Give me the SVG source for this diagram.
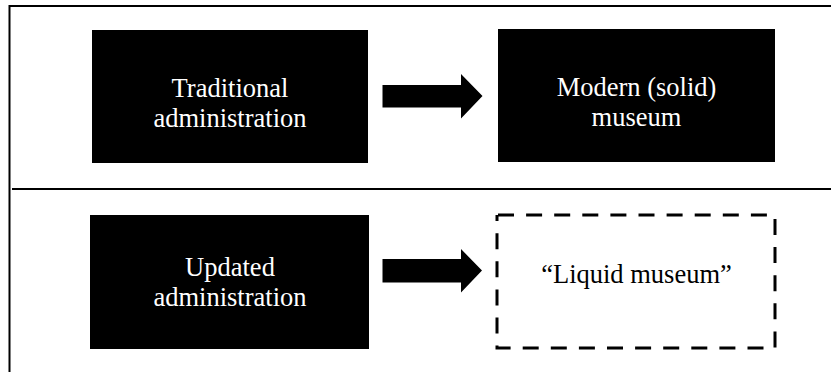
<svg xmlns="http://www.w3.org/2000/svg" width="831" height="372" viewBox="0 0 831 372">
  <style>
    .frame { stroke: #000; stroke-width: 2; fill: none; }
    .box { fill: #000; }
    .lbl { font-family: "Liberation Serif", "Times New Roman", serif; font-size: 26.5px; text-anchor: middle; fill: #fff; }
    .lbl-dark { fill: #000; }
    .dashed { fill: none; stroke: #000; stroke-width: 3; stroke-dasharray: 16 12.1; stroke-dashoffset: -1; }
    .arrow { fill: #000; }
  </style>
  <rect width="831" height="372" fill="#fff"/>
  <g id="frame">
    <path class="frame" d="M9.5 372 V6 H831"/>
    <path class="frame" d="M12 189 H831"/>
  </g>
  <g id="node-traditional">
    <rect class="box" x="92" y="30" width="276" height="133"/>
    <text class="lbl" x="230" y="96.5">Traditional</text>
    <text class="lbl" x="230" y="126.5">administration</text>
  </g>
  <g id="node-modern">
    <rect class="box" x="498" y="29" width="277" height="133"/>
    <text class="lbl" x="636.5" y="96">Modern (solid)</text>
    <text class="lbl" x="636.5" y="126">museum</text>
  </g>
  <g id="node-updated">
    <rect class="box" x="90" y="215" width="279" height="134"/>
    <text class="lbl" x="230" y="276">Updated</text>
    <text class="lbl" x="230" y="306">administration</text>
  </g>
  <g id="node-liquid">
    <rect class="dashed" x="497" y="215" width="278" height="133"/>
    <text class="lbl lbl-dark" x="636.5" y="282.5">“Liquid museum”</text>
  </g>
  <g id="connectors">
    <polygon class="arrow" points="382.5,85 461,85 461,74 482.5,96 461,118.5 461,107.5 382.5,107.5"/>
    <polygon class="arrow" points="382.5,259 461,259 461,249 482,270.5 461,292.5 461,282.5 382.5,282.5"/>
  </g>
</svg>
